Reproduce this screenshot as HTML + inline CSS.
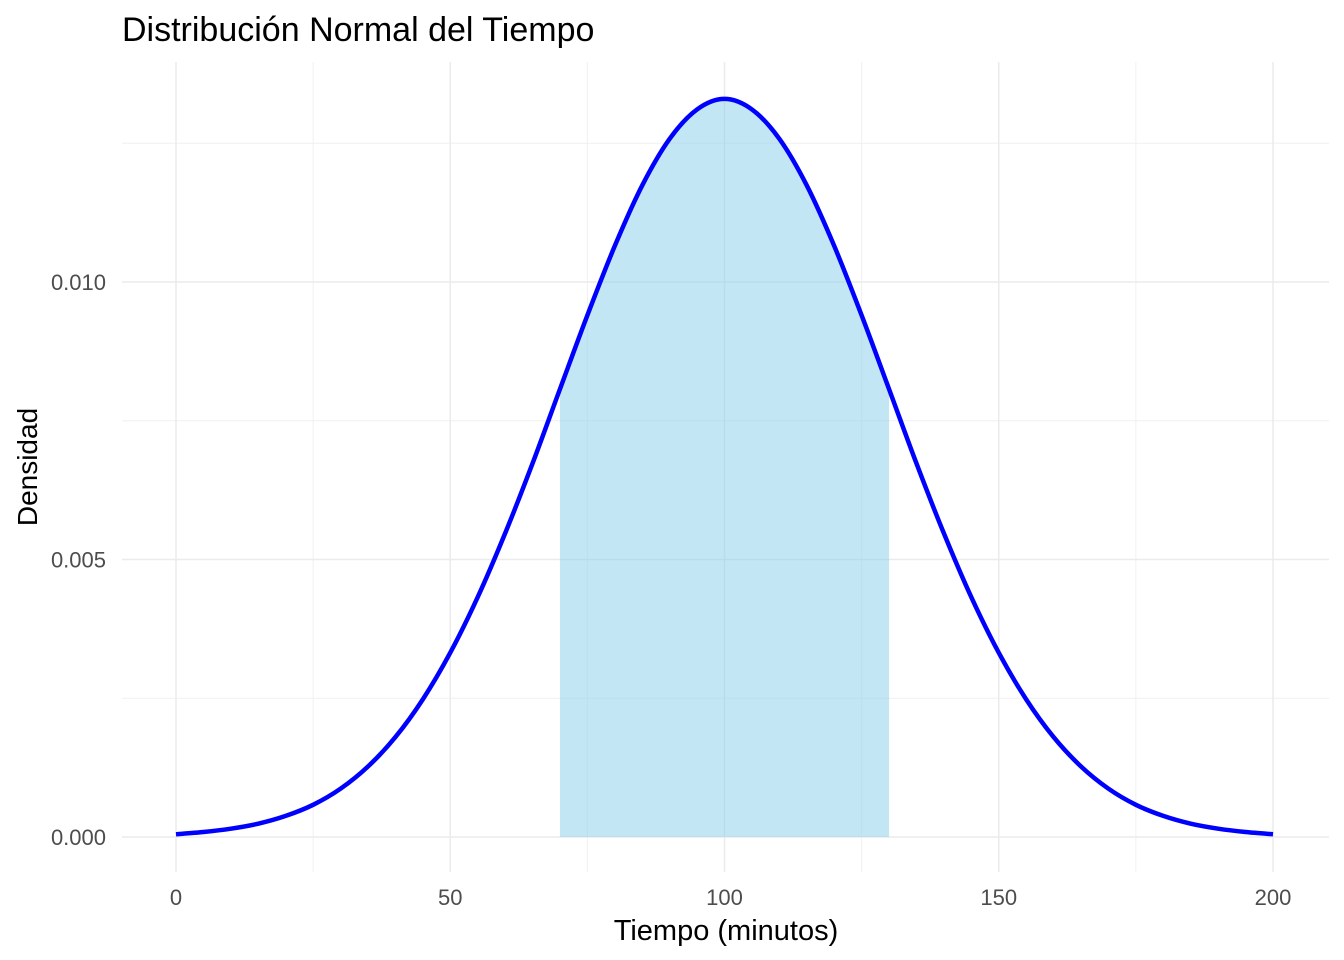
<!DOCTYPE html>
<html><head><meta charset="utf-8"><style>
body{margin:0;background:#fff;}
svg{display:block;font-family:"Liberation Sans",Arial,sans-serif;}
</style></head><body>
<svg id="chart" width="1344" height="960">
<text x="122" y="41" font-size="34" fill="#000">Distribución Normal del Tiempo</text>
<g id="grid"></g>
<g id="area"></g>
<g id="line"></g>
<g id="axes"></g>
<text x="726" y="940" font-size="29" text-anchor="middle" fill="#000">Tiempo (minutos)</text>
<text transform="translate(37,467) rotate(-90)" font-size="28" text-anchor="middle" fill="#000">Densidad</text>
</svg>
<script>
const xs=[0,5,10,15,20,25,30,35,40,45,50,55,60,65,70,75,80,85,90,95,100,105,110,115,120,125,130,135,140,145,150,155,160,165,170,175,180,185,190,195,200];
const dens=[0.00005,0.00009,0.00015,0.00024,0.00038,0.00058,0.00087,0.00127,0.00180,0.00248,0.00332,0.00432,0.00547,0.00673,0.00807,0.00940,0.01065,0.01174,0.01258,0.01311,0.01330,0.01311,0.01258,0.01174,0.01065,0.00940,0.00807,0.00673,0.00547,0.00432,0.00332,0.00248,0.00180,0.00127,0.00087,0.00058,0.00038,0.00024,0.00015,0.00009,0.00005];
const xTicks=[0,50,100,150,200];
const xMinor=[25,75,125,175];
const yTicks=[0,0.005,0.010];
const yTickLabels=["0.000","0.005","0.010"];
const yMinor=[0.0025,0.0075,0.0125];
const shadeRange=[70,130];
const NS="http://www.w3.org/2000/svg";
const X=v=>176+(v-0)*(1273-176)/200;
const Y=v=>837-v*(837-282)/0.010;
const L=122,R=1329,T=62,B=872;
function mk(tag,attrs,parent){const e=document.createElementNS(NS,tag);for(const k in attrs)e.setAttribute(k,attrs[k]);parent.appendChild(e);return e;}
const grid=document.getElementById('grid');
xMinor.forEach(v=>{const e=mk('line',{x1:X(v),x2:X(v),y1:T,y2:B,stroke:'#f0f0f0','stroke-width':1},grid);

});
yMinor.forEach(v=>{const e=mk('line',{x1:L,x2:R,y1:Y(v),y2:Y(v),stroke:'#f0f0f0','stroke-width':1},grid);

});
xTicks.forEach(v=>{const e=mk('line',{x1:X(v),x2:X(v),y1:T,y2:B,stroke:'#ebebeb','stroke-width':1.5},grid);

});
yTicks.forEach(v=>{const e=mk('line',{x1:L,x2:R,y1:Y(v),y2:Y(v),stroke:'#ebebeb','stroke-width':1.5},grid);

});
const axes=document.getElementById('axes');
xTicks.forEach(v=>{const t=mk('text',{x:X(v),y:905,'font-size':22,'text-anchor':'middle',fill:'#4d4d4d'},axes);t.textContent=v;

});
yTicks.forEach((v,i)=>{const t=mk('text',{x:106,y:Y(v)+8,'font-size':22,'text-anchor':'end',fill:'#4d4d4d'},axes);t.textContent=yTickLabels[i];

});
function smooth(pts){let d='M'+pts[0][0]+','+pts[0][1];
for(let i=0;i<pts.length-1;i++){const p0=pts[Math.max(0,i-1)],p1=pts[i],p2=pts[i+1],p3=pts[Math.min(pts.length-1,i+2)];
const c1=[p1[0]+(p2[0]-p0[0])/6,p1[1]+(p2[1]-p0[1])/6],c2=[p2[0]-(p3[0]-p1[0])/6,p2[1]-(p3[1]-p1[1])/6];
d+=' C'+c1[0]+','+c1[1]+' '+c2[0]+','+c2[1]+' '+p2[0]+','+p2[1];}return d;}
const pts=xs.map((x,i)=>[X(x),Y(dens[i])]);
const sp=xs.map((x,i)=>[x,dens[i]]).filter(p=>p[0]>=shadeRange[0]&&p[0]<=shadeRange[1]).map(p=>[X(p[0]),Y(p[1])]);
const ad=smooth(sp)+' L'+X(shadeRange[1])+','+Y(0)+' L'+X(shadeRange[0])+','+Y(0)+' Z';
const a=mk('path',{d:ad,fill:'#87ceeb','fill-opacity':0.5},document.getElementById('area'));


const ln=mk('path',{d:smooth(pts),fill:'none',stroke:'#0000ff','stroke-width':4.5,'stroke-linejoin':'round'},document.getElementById('line'));


</script>
</body></html>
